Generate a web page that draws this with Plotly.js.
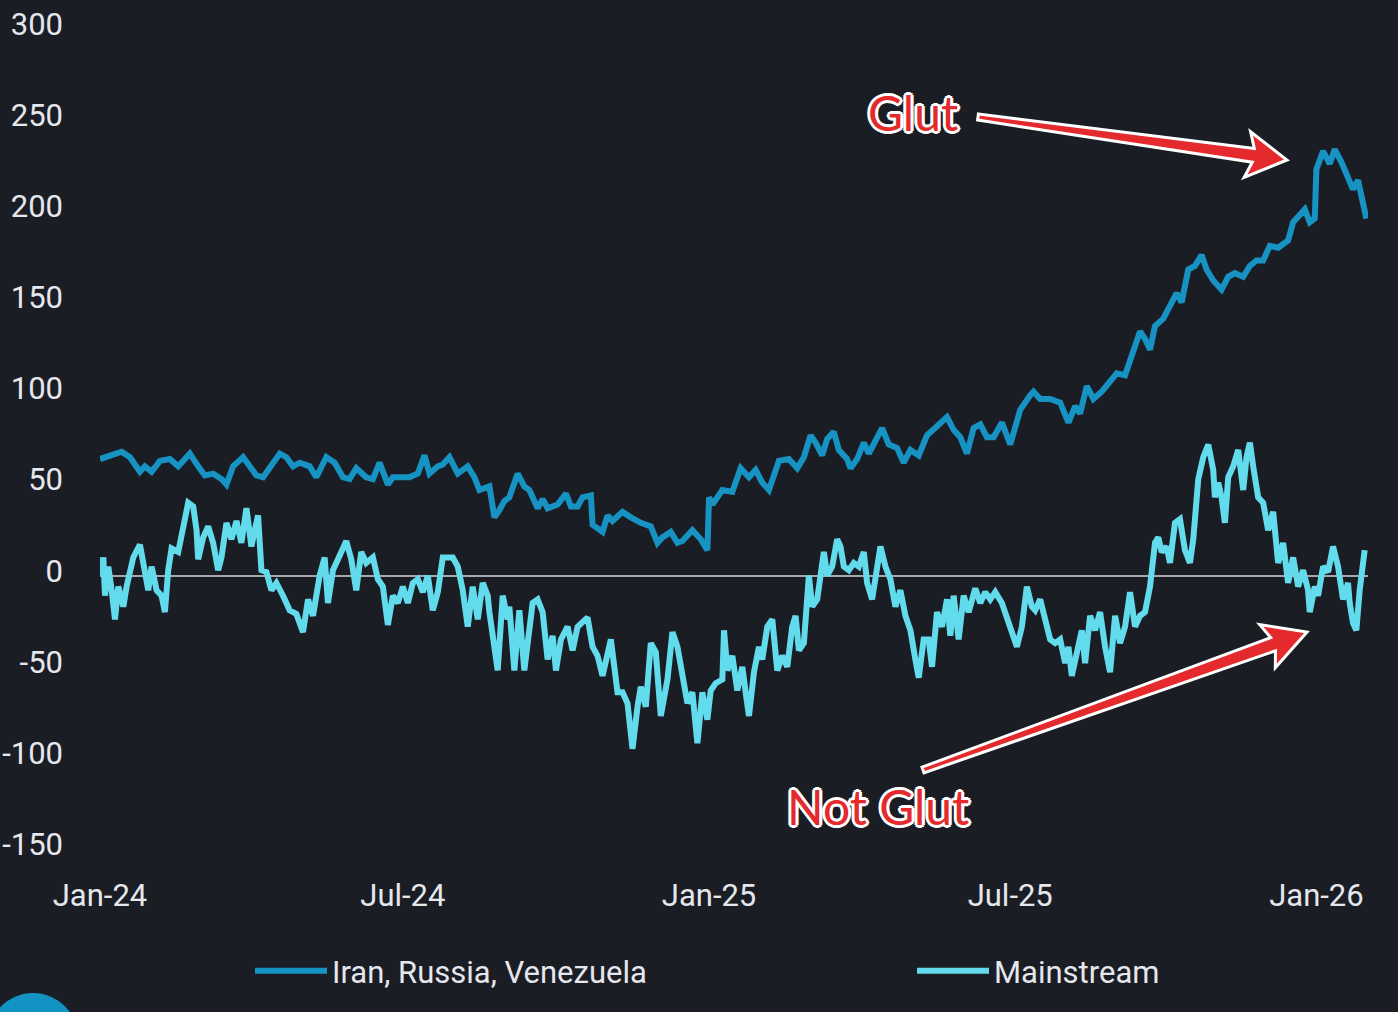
<!DOCTYPE html>
<html>
<head>
<meta charset="utf-8">
<script src="https://cdn.plot.ly/plotly-3.0.1.min.js"></script>
<style>
html,body{margin:0;padding:0;background:#1b1d25;}
#chart{width:1398px;height:1012px;}
</style>
</head>
<body>
<div id="chart"></div>
<script>
// ---- Data (days since 2024-01-01) ----
const seriesNames = ['Iran, Russia, Venezuela', 'Mainstream'];

const irvDays = [0,6,13,18,24,27,31,36,42,47,54,59,63,68,73,76,80,86,90,94,98,103,108,112,116,120,126,130,136,141,146,150,154,160,164,168,173,176,182,186,191,195,198,203,206,210,215,221,225,228,234,237,240,243,246,251,255,258,263,266,269,275,280,283,287,290,295,296,302,305,308,314,319,325,331,335,338,343,347,350,356,361,365,366,368,373,374,380,385,390,394,398,402,408,414,419,423,427,430,434,437,441,444,449,451,455,459,462,466,470,474,479,483,487,492,497,503,509,513,517,521,525,529,533,537,542,547,553,559,561,565,571,577,582,586,589,593,597,602,606,611,616,620,625,628,631,634,639,643,647,650,654,658,662,665,669,674,678,682,687,691,695,699,703,708,714,717,721,724,727,730,731,735,739,742,746,749,753,756,759,761];
const irvValues = [64,66,68,65,57,60,57,63,64,60,67,60,55,56,53,50,60,65,60,55,54,61,67,65,60,62,60,54,65,62,54,53,59,54,53,62,50,54,54,54,56,66,56,60,61,65,56,60,54,47,49,32,36,41,43,56,49,47,37,42,37,39,45,38,38,43,44,28,24,33,30,35,32,29,27,18,21,24,18,19,25,20,14,43,39,45,47,46,59,54,58,51,47,63,64,59,65,77,73,66,75,79,69,64,59,64,73,67,74,81,72,70,62,69,66,77,82,87,80,76,67,81,83,76,76,84,72,91,99,101,97,97,95,84,93,89,104,97,101,106,111,110,120,134,130,124,137,141,148,155,150,168,170,176,168,162,157,164,166,164,170,173,173,181,180,184,194,198,201,194,196,223,233,226,234,227,221,212,217,206,196];

const mainDays = [0,2,3,5,7,9,11,14,16,20,24,26,29,31,34,37,39,41,43,47,50,53,56,58,59,62,65,68,71,73,76,79,82,85,88,91,93,95,97,100,103,106,110,114,118,122,125,128,132,135,137,140,145,148,151,154,157,160,164,167,170,173,176,179,182,185,188,191,194,197,200,203,206,209,212,215,218,221,224,227,230,233,234,239,242,245,246,249,252,255,258,260,263,266,269,272,274,277,281,284,287,290,293,296,299,302,307,311,314,317,320,323,325,328,331,334,337,341,344,347,350,353,356,359,362,365,367,370,374,375,377,380,383,386,388,390,393,396,398,401,404,407,410,413,416,418,420,423,426,428,431,435,437,440,443,445,447,450,453,456,459,461,464,467,469,472,475,478,481,484,487,490,492,495,498,500,503,506,509,511,513,516,519,522,526,529,532,535,538,542,545,548,551,554,557,560,562,565,568,571,574,577,580,582,584,587,590,592,595,598,601,604,607,610,613,616,619,622,625,628,631,634,636,638,641,643,646,649,652,655,657,660,663,666,669,670,672,674,676,678,681,684,687,689,691,693,696,699,702,705,708,711,714,717,720,723,726,727,730,732,735,738,741,744,747,750,751,753,755,757,760];
const mainValues = [0,10,-11,5,-8,-24,-6,-17,-6,10,17,5,-8,5,-8,-11,-20,3,15,13,27,40,38,25,9,21,27,18,3,10,29,20,30,18,37,16,25,33,3,2,-8,-4,-11,-19,-21,-31,-13,-22,0,10,-15,3,13,19,9,-8,13,7,10,-2,-6,-27,-11,-15,-6,-15,-4,-2,-9,0,-19,-9,10,10,10,5,-8,-28,-6,-24,-4,-11,-20,-52,-11,-24,-17,-52,-19,-52,-30,-15,-13,-20,-46,-33,-52,-35,-28,-41,-28,-26,-23,-39,-44,-55,-35,-64,-64,-70,-95,-72,-61,-72,-37,-42,-77,-57,-31,-39,-57,-70,-64,-92,-64,-79,-63,-59,-57,-30,-52,-44,-63,-50,-64,-77,-53,-39,-46,-28,-24,-52,-44,-50,-28,-22,-41,-37,0,-17,-13,13,0,5,20,16,5,3,7,5,13,-4,-13,3,16,5,-2,-17,-8,-22,-30,-46,-56,-35,-35,-50,-20,-28,-13,-33,-11,-35,-11,-20,-7,-15,-9,-13,-9,-15,-24,-31,-39,-28,-6,-17,-19,-13,-24,-35,-37,-35,-48,-39,-55,-41,-30,-48,-22,-30,-20,-39,-53,-22,-37,-28,-9,-28,-22,-20,-6,18,21,13,16,7,29,31,14,7,20,53,65,72,58,43,51,43,29,54,60,69,47,65,73,60,43,40,25,35,7,18,-4,10,-6,3,-8,-20,-6,-11,5,2,16,5,-13,-4,-15,-26,-30,-8,14];

const tickDates = ['2024-01-01','2024-07-01','2025-01-01','2025-07-01','2026-01-01'];
const tickLabels = ['Jan-24','Jul-24','Jan-25','Jul-25','Jan-26'];
const yTicks = [-150,-100,-50,0,50,100,150,200,250,300];
const yTickLabels = ['-150','-100','-50','0','50','100','150','200','250','300'];
const annotationTexts = ['Glut', 'Not Glut'];

// ---- helpers ----
function toDate(d){
  return new Date(Date.UTC(2024,0,1) + d*86400000).toISOString().slice(0,10);
}
const W = 1398, H = 1012;
const M = {l:100, r:30, t:29, b:163};
const PW = W - M.l - M.r, PH = H - M.t - M.b;
const px = x => (x - M.l) / PW;
const py = y => (H - M.b - y) / PH;
function pathFrom(pts){
  return 'M' + pts.map(p => px(p[0]).toFixed(5) + ',' + py(p[1]).toFixed(5)).join('L') + 'Z';
}

const BG = '#1b1d25';
const TXT = '#e6e7ec';
const AXC = '#a6a7ad';
const C1 = '#1693c3';
const C2 = '#62dbec';
const RED = '#e42a2c';
const FONT = 'Roboto, sans-serif';

const traces = [
  {x: irvDays.map(toDate), y: irvValues, name: seriesNames[0], type: 'scatter', mode: 'lines',
   line: {color: C1, width: 6}, hoverinfo: 'skip', legend: 'legend'},
  {x: mainDays.map(toDate), y: mainValues, name: seriesNames[1], type: 'scatter', mode: 'lines',
   line: {color: C2, width: 6}, hoverinfo: 'skip', legend: 'legend2'}
];

const outline = ['2px 0 0 #fff','-2px 0 0 #fff','0 2px 0 #fff','0 -2px 0 #fff',
  '2px 2px 0 #fff','-2px -2px 0 #fff','2px -2px 0 #fff','-2px 2px 0 #fff',
  '3px 0 0 #fff','-3px 0 0 #fff','0 3px 0 #fff','0 -3px 0 #fff'].join(', ');

const glutArrow = [[978.4,114.0],[1254.3,148.4],[1250.6,131.7],[1287,160],[1244.2,177.3],[1252.3,162.2],[977.6,120.0]];
const notGlutArrow = [[922,767.2],[1270.7,637.6],[1259.7,624.6],[1307,632],[1275.3,667.8],[1275.5,650.8],[924,772.8]];

const legendBase = {orientation: 'h', xanchor: 'left', y: py(971), yanchor: 'middle',
  font: {family: FONT, size: 31, color: TXT}, bgcolor: 'rgba(0,0,0,0)', itemwidth: 72};

const layout = {
  width: W, height: H,
  margin: M,
  paper_bgcolor: BG, plot_bgcolor: BG,
  font: {family: FONT, size: 31, color: TXT},
  showlegend: true,
  legend: Object.assign({}, legendBase, {x: px(250)}),
  legend2: Object.assign({}, legendBase, {x: px(912)}),
  xaxis: {type: 'date', range: ['2024-01-01', '2026-02-01'], tickvals: tickDates, ticktext: tickLabels,
          showgrid: false, zeroline: false, showline: false, ticks: '', ticklabelstandoff: 25,
          tickfont: {family: FONT, size: 31, color: TXT}, fixedrange: true},
  xaxis2: {type: 'date', overlaying: 'x', anchor: 'free', position: 1/3,
           range: ['2024-01-01', '2026-02-01'], tickvals: tickDates, showticklabels: false,
           ticks: 'outside', ticklen: 10, tickwidth: 2, tickcolor: AXC,
           showgrid: false, zeroline: false, showline: false, layer: 'below traces', fixedrange: true},
  yaxis: {range: [-150, 300], tickvals: yTicks, ticktext: yTickLabels, showgrid: false, zeroline: true,
          zerolinecolor: AXC, zerolinewidth: 2, showline: false, ticks: '', ticklabelstandoff: 36,
          ticklabelshift: -5,
          tickfont: {family: FONT, size: 31, color: TXT}, fixedrange: true},
  shapes: [
    {type: 'path', xref: 'paper', yref: 'paper', path: pathFrom(glutArrow),
     fillcolor: RED, line: {color: '#ffffff', width: 3}, layer: 'above'},
    {type: 'path', xref: 'paper', yref: 'paper', path: pathFrom(notGlutArrow),
     fillcolor: RED, line: {color: '#ffffff', width: 3}, layer: 'above'},
    {type: 'circle', xref: 'paper', yref: 'paper', x0: px(-12), x1: px(78), y0: py(1083), y1: py(993),
     fillcolor: '#1392c4', line: {width: 0}, layer: 'above'}
  ],
  annotations: [
    {text: annotationTexts[0], xref: 'paper', yref: 'paper', x: px(913), y: py(113),
     xanchor: 'center', yanchor: 'middle', showarrow: false,
     font: {family: 'Lato, sans-serif', size: 48, color: RED, shadow: outline}},
    {text: annotationTexts[1], xref: 'paper', yref: 'paper', x: px(878), y: py(806),
     xanchor: 'center', yanchor: 'middle', showarrow: false,
     font: {family: 'Lato, sans-serif', size: 48, color: RED, shadow: outline}}
  ]
};

Plotly.newPlot('chart', traces, layout, {displayModeBar: false, staticPlot: true});
</script>
</body>
</html>
